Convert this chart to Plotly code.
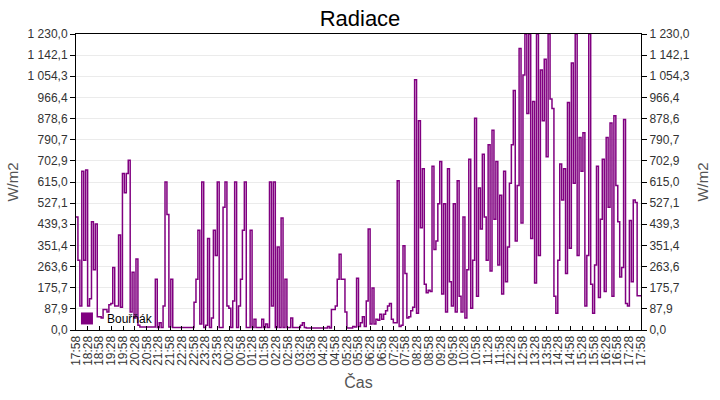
import pandas as pd
import plotly.graph_objects as go

chart_title = "Radiace"
series_name = "Bouřňák"
x_title = "Čas"
y_title = "W/m2"
y_tick_labels = ["0,0", "87,9", "175,7", "263,6", "351,4", "439,3", "527,1", "615,0",
                 "702,9", "790,7", "878,6", "966,4", "1 054,3", "1 142,1", "1 230,0"]
y_max = 1230.0
t_start = "2024-05-01 17:58"
t_end = "2024-05-02 17:58"

# radiation readings (W/m2), evenly spaced from t_start to t_end
radiace = [
    470, 290, 100, 660, 290, 665, 100, 130, 450, 250,
    440, 55, 55, 50, 85, 85, 75, 105, 110, 260,
    100, 100, 395, 95, 650, 570, 650, 705, 75, 240,
    50, 295, 20, 12, 12, 12, 12, 12, 12, 12,
    12, 211, 10, 30, 10, 100, 615, 480, 12, 211,
    10, 10, 10, 10, 10, 10, 10, 10, 10, 10,
    10, 115, 211, 415, 25, 615, 10, 20, 380, 10,
    50, 415, 310, 615, 10, 10, 510, 615, 100, 90,
    10, 120, 615, 10, 100, 211, 415, 615, 10, 10,
    415, 10, 45, 10, 10, 10, 45, 10, 25, 10,
    615, 100, 615, 10, 345, 10, 465, 10, 211, 10,
    10, 50, 10, 10, 10, 10, 20, 30, 10, 8,
    8, 8, 8, 8, 8, 8, 8, 8, 8, 8,
    15, 8, 85, 85, 100, 211, 315, 211, 211, 75,
    8, 8, 8, 15, 12, 215, 15, 30, 55, 15,
    120, 420, 25, 175, 25, 45, 40, 65, 45, 65,
    80, 100, 110, 45, 30, 30, 620, 15, 20, 350,
    235, 50, 55, 80, 95, 1040, 70, 870, 425, 670,
    190, 155, 165, 160, 680, 335, 370, 525, 700, 150,
    525, 75, 670, 200, 100, 525, 75, 620, 140, 75,
    470, 50, 250, 710, 90, 290, 880, 140, 590, 420,
    730, 470, 290, 770, 245, 830, 460, 700, 270, 560,
    150, 660, 200, 345, 610, 770, 995, 370, 600, 1170,
    445, 1060, 1230, 900, 1230, 380, 950, 195, 1230, 310,
    1080, 870, 1125, 720, 1230, 960, 920, 140, 70, 290,
    690, 540, 670, 235, 945, 340, 1110, 610, 1230, 310,
    800, 660, 820, 100, 310, 1230, 190, 70, 270, 680,
    135, 460, 710, 160, 800, 510, 860, 140, 890, 600,
    450, 220, 260, 875, 110, 100, 455, 200, 540, 530,
    142, 142, 142,
]

times = pd.date_range(t_start, t_end, periods=len(radiace))
tick_vals = [float(s.replace(" ", "").replace(",", ".")) for s in y_tick_labels]

purple = "#800080"
font_family = "Liberation Sans, Arial, sans-serif"

fig = go.Figure()
fig.add_trace(go.Scatter(
    x=times, y=radiace, mode="lines",
    line=dict(color=purple, width=1.5, shape="hv"),
    showlegend=False, hoverinfo="skip",
))
# legend entry (filled square)
fig.add_trace(go.Bar(x=[None], y=[None], name=series_name,
                     marker=dict(color=purple, line=dict(width=0))))
# companion trace for right axis
fig.add_trace(go.Scatter(x=[times[0]], y=[0], yaxis="y2", mode="lines",
                         showlegend=False, hoverinfo="skip",
                         line=dict(color="rgba(0,0,0,0)")))

axis_common = dict(
    range=[0, y_max], tickmode="array", tickvals=tick_vals, ticktext=y_tick_labels,
    ticks="outside", ticklen=5, tickcolor="black", showline=True, linecolor="black",
    linewidth=1, zeroline=False, tickfont=dict(size=12, color="#333333"),
    fixedrange=True,
)

fig.update_layout(
    width=720, height=400,
    margin=dict(l=75, r=76, t=34, b=69),
    paper_bgcolor="white", plot_bgcolor="white",
    font=dict(family=font_family, color="#333333"),
    title=dict(text=chart_title, x=0.5, xanchor="center", y=1 - 18 / 400, yanchor="middle",
               font=dict(size=22, color="black")),
    xaxis=dict(
        type="date", range=[times[0], times[-1]], tick0=times[0], dtick=1800000,
        tickformat="%H:%M", tickangle=-90, ticks="inside", ticklen=4, tickcolor="black",
        showline=True, linecolor="black", linewidth=1, mirror=True, showgrid=False,
        zeroline=False, tickfont=dict(size=12, color="#333333"),
        title=dict(text=x_title, font=dict(size=16, color="#555555"), standoff=11),
    ),
    yaxis=dict(**axis_common, showgrid=True, gridcolor="#ebebeb", gridwidth=1,
               title=dict(text=y_title, font=dict(size=15, color="#555555"), standoff=5)),
    yaxis2=dict(**axis_common, overlaying="y", side="right", showgrid=False,
                title=dict(text=y_title, font=dict(size=15, color="#555555"), standoff=8)),
    legend=dict(x=-0.016, y=-0.01, xanchor="left", yanchor="bottom", bgcolor="rgba(0,0,0,0)",
                font=dict(size=12, color="black"), borderwidth=0),
    showlegend=True,
)

fig.write_html("out.html")
